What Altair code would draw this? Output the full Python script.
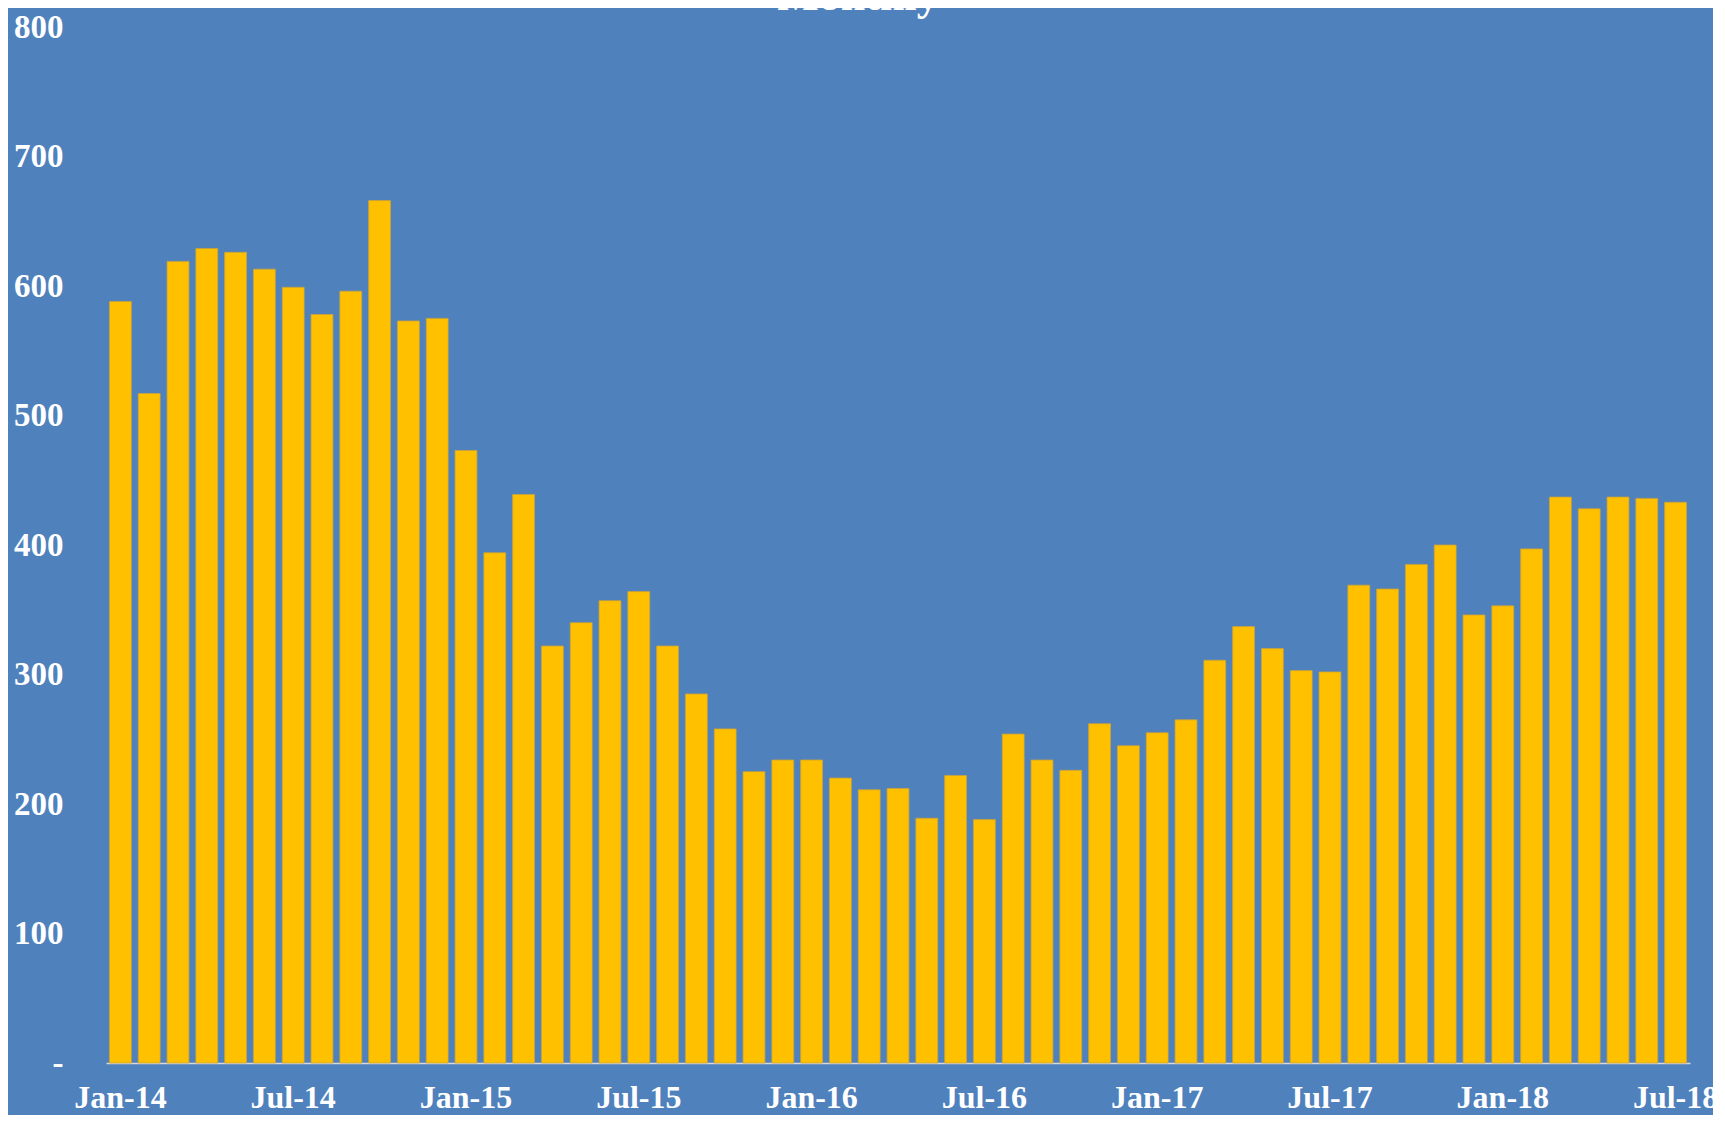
import altair as alt
import pandas as pd

month_names = ["Jan", "Feb", "Mar", "Apr", "May", "Jun",
               "Jul", "Aug", "Sep", "Oct", "Nov", "Dec"]
years = ["14", "15", "16", "17", "18"]
months = [f"{m}-{y}" for y in years for m in month_names][:55]

values = [588, 517, 619, 629, 626, 613, 599, 578, 596, 666, 573, 575,
          473, 394, 439, 322, 340, 357, 364, 322, 285, 258, 225, 234,
          234, 220, 211, 212, 189, 222, 188, 254, 234, 226, 262, 245,
          255, 265, 311, 337, 320, 303, 302, 369, 366, 385, 400, 346,
          353, 397, 437, 428, 437, 436, 433]

x_tick_labels = ["Jan-14", "Jul-14", "Jan-15", "Jul-15", "Jan-16", "Jul-16",
                 "Jan-17", "Jul-17", "Jan-18", "Jul-18"]
y_ticks = [0, 100, 200, 300, 400, 500, 600, 700, 800]
title_text = ["Monthly"]

df = pd.DataFrame({"month": months, "value": values})
title_df = pd.DataFrame({"t": title_text})

FONT = "Liberation Serif"
BG = "#4F81BD"

bars = alt.Chart(df).mark_bar(
    color="#FFC000", stroke="#C9A23A", strokeWidth=0.8
).encode(
    x=alt.X(
        "month:N", sort=months,
        scale=alt.Scale(paddingInner=0.24, paddingOuter=0.12),
        axis=alt.Axis(
            values=x_tick_labels, title=None, labelAngle=0, ticks=False,
            domainColor="#D9D9D9", domainWidth=1.5, labelFont=FONT,
            labelFontSize=32, labelFontWeight="bold", labelColor="white",
            labelPadding=19, labelOverlap=False, grid=False,
        ),
    ),
    y=alt.Y(
        "value:Q",
        scale=alt.Scale(domain=[0, 800]),
        axis=alt.Axis(
            values=y_ticks, title=None, ticks=False, domain=False, grid=False,
            labelFont=FONT, labelFontSize=33, labelFontWeight="bold",
            labelColor="white", labelPadding=43,
            labelExpr="datum.value == 0 ? '-\u00a0\u00a0' : format(datum.value, 'd')",
        ),
    ),
)

title = alt.Chart(title_df).mark_text(
    font=FONT, fontSize=44, fontWeight="bold", color="white",
    align="center", baseline="alphabetic",
).encode(
    text="t:N", x=alt.value(752), y=alt.value(-17)
)

chart = alt.layer(bars, title).properties(
    width=1584, height=1036,
    autosize=alt.AutoSizeParams(type="none"),
    padding={"left": 98, "top": 19, "right": 23, "bottom": 52},
    background=BG,
).configure_view(stroke=None)

chart.save("out.html", embed_options={"renderer": "svg", "actions": False})
